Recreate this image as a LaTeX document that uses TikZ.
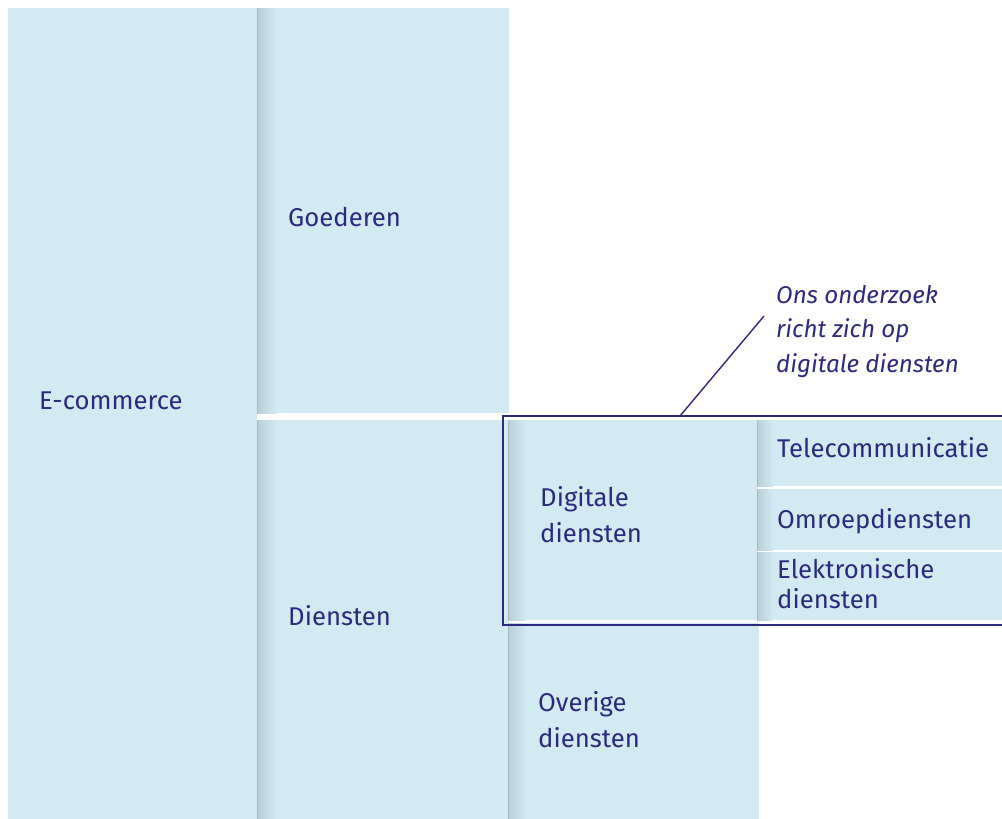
\documentclass[tikz,border=0pt]{standalone}
\usepackage{fontspec}
\setmainfont{Fira Sans}
\definecolor{cellblue}{RGB}{210,235,242}
\definecolor{shadedark}{RGB}{163,188,197}
\definecolor{shademid}{RGB}{185,208,216}
\definecolor{navy}{RGB}{43,42,127}
\pgfdeclarehorizontalshading{edgesh}{100bp}{color(0bp)=(shadedark); color(25bp)=(shadedark); color(27bp)=(shademid); color(75bp)=(cellblue); color(100bp)=(cellblue)}
\begin{document}
\begin{tikzpicture}[x=1pt,y=-1pt,
  cell/.style={fill=cellblue},
  edgeshade/.style={shading=edgesh},
  lbl/.style={anchor=base west, text=navy, inner sep=0pt, align=left,
    font=\fontsize{25.7}{36}\selectfont},
  note/.style={anchor=base west, text=navy, inner sep=0pt, align=left,
    font=\fontsize{24.2}{34.5}\selectfont\itshape},
  frameline/.style={draw=navy, line width=2pt},
  callout/.style={draw=navy, line width=1.4pt}
]
\useasboundingbox (0,0) rectangle (1002,819);
\clip (0,0) rectangle (1002,819);
% cells
\fill[cell] (8,8) rectangle (257,819);
\fill[cell] (257,8) rectangle (509,413);
\fill[cell] (257,420) rectangle (508,819);
\fill[cell] (508,420) rectangle (757,620);
\fill[cell] (508,623) rectangle (759,819);
\fill[cell] (757,420) rectangle (1002,486);
\fill[cell] (757,489) rectangle (1002,550);
\fill[cell] (757,552) rectangle (1002,620);
% edge shadows
\shade[edgeshade] (257,8) rectangle (277,413);
\shade[edgeshade] (257,420) rectangle (277,819);
\shade[edgeshade] (508,420) rectangle (526,620);
\shade[edgeshade] (508,623) rectangle (526,819);
\shade[edgeshade] (757,420) rectangle (773,486);
\shade[edgeshade] (757,489) rectangle (773,550);
\shade[edgeshade] (757,552) rectangle (773,620);
% frame
\draw[frameline] (503,416) rectangle (1010,625);
\coordinate (cfoot) at (680,416);
\coordinate (chead) at (764,316);
\draw[callout] (cfoot) -- (chead);
% labels (base anchor = baseline of last line)
\node[lbl] (ecom) at (39,409) {E-commerce};
\node[lbl] (goed) at (288,226) {Goederen};
\node[lbl] (dien) at (288,625) {Diensten};
\node[lbl] (digi) at (540,542) {Digitale\\diensten};
\node[lbl] (over) at (538,747) {Overige\\diensten};
\node[lbl] (tele) at (777,457) {Telecommunicatie};
\node[lbl] (omro) at (777,528) {Omroepdiensten};
\node[lbl, font=\fontsize{25.7}{30}\selectfont] (elek) at (777,608) {Elektronische\\diensten};
\node[note] (ons) at (776,372) {Ons onderzoek\\richt zich op\\digitale diensten};
\end{tikzpicture}
\end{document}
